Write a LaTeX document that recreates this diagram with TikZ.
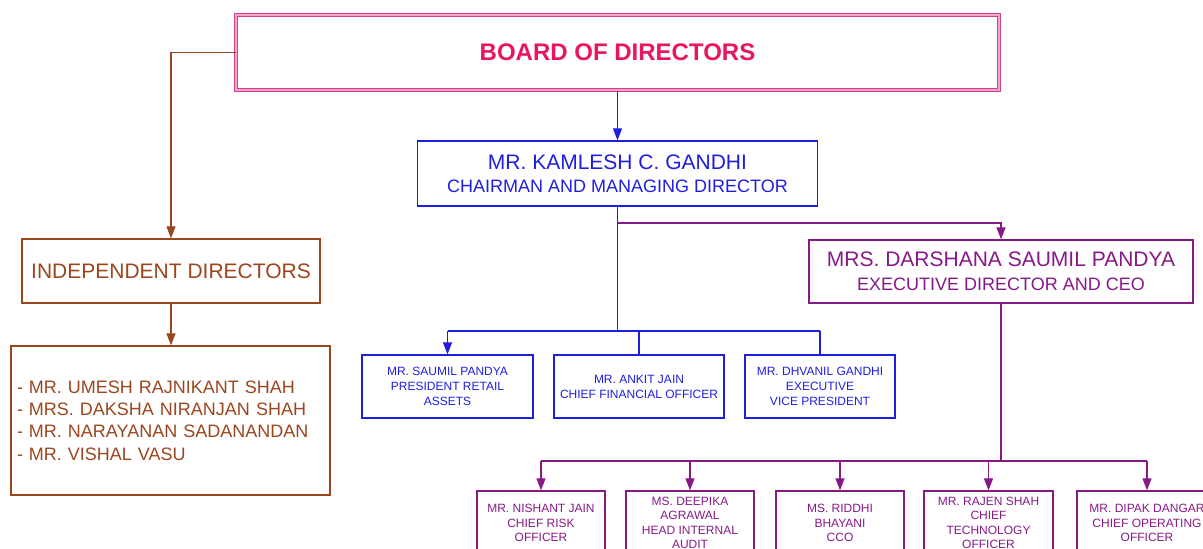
\documentclass[tikz,border=0pt]{standalone}
\usepackage{fontspec}
\setmainfont{Liberation Sans}
\usetikzlibrary{arrows.meta}

\definecolor{bluec}{RGB}{30,30,225}
\definecolor{purplec}{RGB}{135,25,135}
\definecolor{brownc}{RGB}{155,70,30}
\definecolor{pinkt}{RGB}{232,22,98}
\definecolor{pinkd}{RGB}{214,62,140}
\definecolor{pinkl}{RGB}{242,168,204}

\begin{document}
\begin{tikzpicture}[x=1pt,y=-1pt,
  box/.style={draw, rectangle, line width=1.3pt, inner sep=0pt, align=center},
  bluebox/.style={box, draw=bluec, text=bluec},
  purplebox/.style={box, draw=purplec, text=purplec},
  brownbox/.style={box, draw=brownc, text=brownc},
  link/.style={line width=1.2pt},
  tip/.style={-{Triangle[length=12pt,width=9pt]}},
  small/.style={font=\fontsize{12}{15}\selectfont},
  tiny/.style={font=\fontsize{12}{14.5}\selectfont},
  big/.style={font=\fontsize{21}{23}\selectfont},
]
\useasboundingbox (0,0) rectangle (1203,549);

% top level
\node[draw=pinkd, double=pinkl, double distance=2pt, line width=1pt,
      minimum width=763pt, minimum height=75pt, inner sep=0pt, text=pinkt,
      font=\bfseries\fontsize{24}{28}\selectfont] (board) at (617.5,52.5) {BOARD OF DIRECTORS};

\node[bluebox, big, minimum width=400pt, minimum height=65pt] (kamlesh) at (617.5,173.5)
  {MR. KAMLESH C. GANDHI\\{\fontsize{18}{23}\selectfont CHAIRMAN AND MANAGING DIRECTOR}};

\node[purplebox, font=\fontsize{21}{24}\selectfont, minimum width=384pt, minimum height=63pt] (darshana) at (1001,271.5)
  {MRS. DARSHANA SAUMIL PANDYA\\{\fontsize{18}{24}\selectfont EXECUTIVE DIRECTOR AND CEO}};

% independent directors
\node[brownbox, big, minimum width=298pt, minimum height=64pt] (indep) at (171,271) {INDEPENDENT DIRECTORS};
\node[brownbox, font=\fontsize{18}{22.3}\selectfont, align=left, text width=307pt, inner xsep=6pt,
      minimum height=149pt] (list) at (170.5,420.5)
  {- MR. UMESH RAJNIKANT SHAH\\- MRS. DAKSHA NIRANJAN SHAH\\- MR. NARAYANAN SADANANDAN\\- MR. VISHAL VASU};

% reporting to the chairman
\node[bluebox, small, minimum width=171pt, minimum height=63pt] (saumil) at (447.5,386.5)
  {MR. SAUMIL PANDYA\\PRESIDENT RETAIL\\ASSETS};
\node[bluebox, small, minimum width=170pt, minimum height=63pt] (ankit) at (639,386.5)
  {MR. ANKIT JAIN\\CHIEF FINANCIAL OFFICER};
\node[bluebox, small, minimum width=150pt, minimum height=63pt] (dhvanil) at (820,386.5)
  {MR. DHVANIL GANDHI\\EXECUTIVE\\VICE PRESIDENT};

% reporting to the CEO
\node[purplebox, tiny, minimum width=128pt, minimum height=64pt] (nishant) at (541,523)
  {MR. NISHANT JAIN\\CHIEF RISK\\OFFICER};
\node[purplebox, tiny, minimum width=128pt, minimum height=64pt] (deepika) at (690,523)
  {MS. DEEPIKA\\AGRAWAL\\HEAD INTERNAL\\AUDIT};
\node[purplebox, tiny, minimum width=128pt, minimum height=64pt] (riddhi) at (840,523)
  {MS. RIDDHI\\BHAYANI\\CCO};
\node[purplebox, tiny, minimum width=129pt, minimum height=64pt] (rajen) at (988.5,523)
  {MR. RAJEN SHAH\\CHIEF\\TECHNOLOGY\\OFFICER};
\node[purplebox, tiny, minimum width=140pt, minimum height=64pt] (dipak) at (1147,523)
  {MR. DIPAK DANGAR\\CHIEF OPERATING\\OFFICER};

% connectors
\draw[link, draw=bluec, tip] (board) -- (kamlesh);
\draw[link, draw=brownc, tip] (board.west) -| (indep.north);
\draw[link, draw=brownc, tip] (indep.south) -- (indep.south |- list.north);

\coordinate (busB) at (617.5,331);
\draw[link, draw=bluec] (kamlesh.south) -- (busB);
\draw[link, draw=bluec] (saumil.north |- busB) -- (dhvanil.north |- busB);
\draw[link, draw=bluec, tip] (saumil.north |- busB) -- (saumil.north);
\draw[link, draw=bluec] (ankit.north |- busB) -- (ankit.north);
\draw[link, draw=bluec] (dhvanil.north |- busB) -- (dhvanil.north);

\coordinate (split) at (617.5,223);
\draw[link, draw=purplec, tip] (split) -| (darshana.north);

\coordinate (busP) at (1001,461);
\draw[link, draw=purplec] (darshana.south) -- (busP);
\draw[link, draw=purplec] (nishant.north |- busP) -- (dipak.north |- busP);
\foreach \n in {nishant,deepika,riddhi,rajen,dipak}
  \draw[link, draw=purplec, tip] (\n.north |- busP) -- (\n.north);
\end{tikzpicture}
\end{document}
